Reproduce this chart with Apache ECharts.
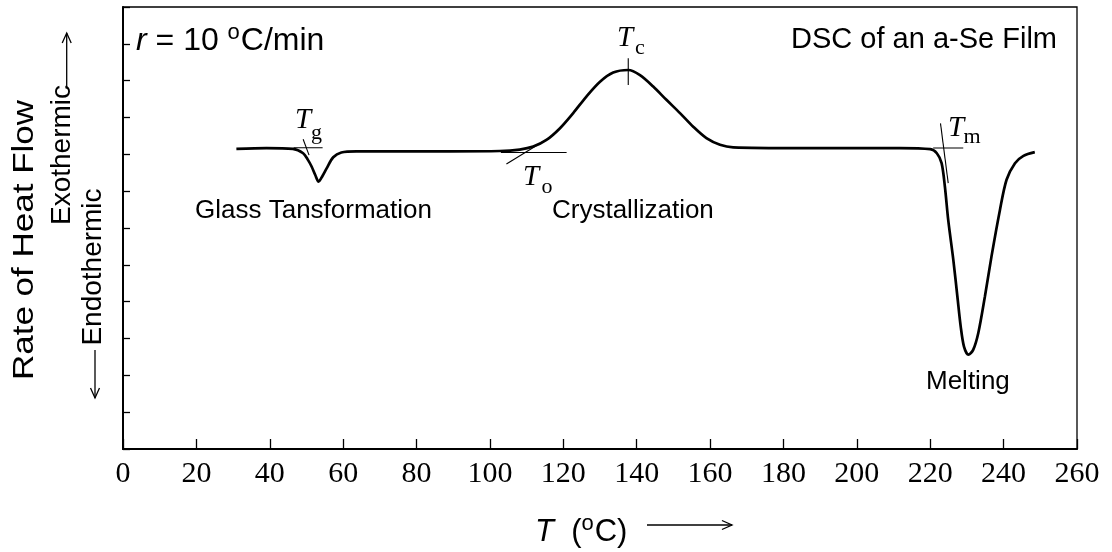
<!DOCTYPE html>
<html>
<head>
<meta charset="utf-8">
<script src="https://cdn.jsdelivr.net/npm/echarts@6/dist/echarts.min.js"></script>
<style>
  html, body { margin: 0; padding: 0; background: #fff; }
  #chart { width: 1112px; height: 552px; }
</style>
</head>
<body>
<div id="chart"></div>
<script>
// DSC trace of an a-Se film
const tempC = [30.9, 39.1, 46.3, 49.1, 50.4, 51.4, 52.4, 53.3, 54.4, 55.5, 57.3, 59.5, 63.6, 70, 75.4,
  89.0, 102.7, 108.1, 111.8, 115.4, 119.1, 122.7, 126.3, 130.0, 133.6, 137.7, 140.9, 144.5, 148.1,
  151.8, 155.4, 159.0, 162.7, 166.3, 184.5, 211.7, 220.0, 221.8, 223.1, 224.0, 224.9, 226.3, 227.4,
  228.3, 229.2, 230.4, 231.7, 233.1, 234.9, 236.7, 239.0, 240.8, 243.1, 245.4, 248.5]
const heatFlow = [8.15, 8.17, 8.15, 8.03, 7.85, 7.67, 7.44, 7.26, 7.42, 7.62, 7.92, 8.05, 8.08, 8.08, 8.08,
  8.08, 8.09, 8.13, 8.21, 8.39, 8.71, 9.12, 9.57, 9.97, 10.22, 10.29, 10.15, 9.84, 9.48,
  9.12, 8.75, 8.44, 8.26, 8.19, 8.17, 8.17, 8.14, 8.03, 7.76, 7.12, 6.22, 5.13, 4.14,
  3.33, 2.78, 2.56, 2.69, 3.15, 4.14, 5.23, 6.49, 7.31, 7.76, 7.96, 8.06]

// construction lines for the characteristic temperatures
const tgBase = [[46.5, 8.18], [54.4, 8.18]]
const tgSlope = [[49.1, 8.41], [50.7, 7.98]]
const tcMark = [[137.7, 10.61], [137.7, 9.88]]
const toBase = [[103, 8.05], [120.9, 8.05]]
const toSlope = [[104.5, 7.74], [114.5, 8.35]]
const tmBase = [[220.8, 8.17], [229.0, 8.17]]
const tmSlope = [[222.8, 8.84], [224.9, 7.22]]

const xTicks = [0, 260, 20]   // min, max, step
const yTicks = [0, 12, 1]

const SANS = 'Liberation Sans'
const SERIF = 'Liberation Serif'

const chart = echarts.init(document.getElementById('chart'))
const ctx = document.createElement('canvas').getContext('2d')

function guide(name, pts) {
  return {
    name: name,
    type: 'line',
    data: pts,
    symbol: 'none',
    silent: true,
    lineStyle: { color: '#000', width: 1.1 },
    z: 3
  }
}

function txt(x, y, text, o) {
  o = o || {}
  return {
    type: 'text',
    x: x, y: y,
    rotation: o.rotation || 0,
    scaleX: o.scaleX || 1,
    scaleY: o.scaleY || 1,
    style: {
      text: text,
      fill: '#000',
      fontFamily: o.family || SANS,
      fontSize: o.size || 26,
      fontStyle: o.italic ? 'italic' : 'normal',
      align: o.align || 'left',
      textAlign: o.align || 'left',
      verticalAlign: 'middle',
      textVerticalAlign: 'middle'
    }
  }
}

// a run of text pieces laid out left to right; sup pieces are raised and smaller
function run(x, y, size, pieces) {
  let out = []
  pieces.forEach(p => {
    const s = p.sup ? Math.round(size * 0.7) : size
    ctx.font = (p.italic ? 'italic ' : '') + s + 'px "' + SANS + '"'
    out.push(txt(x, p.sup ? y - size * 0.26 : y, p.t, { size: s, italic: p.italic }))
    x += ctx.measureText(p.t).width + (p.sup ? 1 : 0)
  })
  return out
}

function arrow(x1, y1, x2, y2) {
  const a = Math.atan2(y2 - y1, x2 - x1), len = 11, w = 0.42
  return [
    { type: 'line', shape: { x1: x1, y1: y1, x2: x2, y2: y2 }, style: { stroke: '#000', lineWidth: 1.3 } },
    { type: 'polyline', shape: { points: [
      [x2 - len * Math.cos(a - w), y2 - len * Math.sin(a - w)],
      [x2, y2],
      [x2 - len * Math.cos(a + w), y2 - len * Math.sin(a + w)]
    ] }, style: { stroke: '#000', lineWidth: 1.3, fill: null } }
  ]
}

const option = {
  animation: false,
  backgroundColor: '#fff',
  grid: {
    left: 123, right: 35, top: 7, bottom: 103,
    show: true, borderColor: '#000', borderWidth: 1.3
  },
  xAxis: {
    type: 'value',
    min: xTicks[0], max: xTicks[1], interval: xTicks[2],
    splitLine: { show: false },
    axisLine: { lineStyle: { color: '#000', width: 2 } },
    axisTick: { inside: true, length: 10, lineStyle: { color: '#000', width: 1.3 } },
    axisLabel: { color: '#000', fontFamily: SERIF, fontSize: 30, margin: 10 }
  },
  yAxis: {
    type: 'value',
    min: yTicks[0], max: yTicks[1], interval: yTicks[2],
    splitLine: { show: false },
    axisLine: { lineStyle: { color: '#000', width: 2 } },
    axisTick: { inside: true, length: 7, lineStyle: { color: '#000', width: 1.3 } },
    axisLabel: { show: false }
  },
  series: [
    {
      name: 'DSC',
      type: 'line',
      data: tempC.map((t, i) => [t, heatFlow[i]]),
      symbol: 'none',
      smooth: 0.3,
      lineStyle: { color: '#000', width: 2.7 },
      z: 4
    },
    guide('Tg base', tgBase),
    guide('Tg slope', tgSlope),
    guide('Tc', tcMark),
    guide('To base', toBase),
    guide('To slope', toSlope),
    guide('Tm base', tmBase),
    guide('Tm slope', tmSlope)
  ],
  graphic: [
    // axis titles
    txt(25, 240, 'Rate of Heat Flow', { size: 35, rotation: Math.PI / 2, align: 'center', scaleY: 0.86 }),
    txt(62, 155, 'Exothermic', { size: 28, rotation: Math.PI / 2, align: 'center' }),
    txt(93.5, 267, 'Endothermic', { size: 28, rotation: Math.PI / 2, align: 'center' }),
    ...arrow(66.7, 88, 66.7, 33),
    ...arrow(95, 350, 95, 398),
    ...run(535, 532, 31, [{ t: 'T', italic: true }, { t: '  (' }, { t: 'o', sup: true }, { t: 'C)' }]),
    ...arrow(647, 525, 732, 525),

    // notes in the frame
    ...run(136, 41.5, 32, [{ t: 'r', italic: true }, { t: ' = 10 ' }, { t: 'o', sup: true }, { t: 'C/min' }]),
    txt(1057, 40, 'DSC of an a-Se Film', { size: 29, align: 'right' }),
    txt(195, 211, 'Glass Tansformation', { size: 26 }),
    txt(552, 211, 'Crystallization', { size: 26 }),
    txt(926, 382, 'Melting', { size: 26 }),

    // characteristic temperatures
    txt(295, 120, 'T', { family: SERIF, size: 29, italic: true }),
    txt(311, 133.5, 'g', { family: SERIF, size: 22 }),
    txt(617, 38.5, 'T', { family: SERIF, size: 29, italic: true }),
    txt(635, 48.5, 'c', { family: SERIF, size: 22 }),
    txt(523, 177, 'T', { family: SERIF, size: 29, italic: true }),
    txt(541.5, 187.5, 'o', { family: SERIF, size: 22 }),
    txt(948, 128.5, 'T', { family: SERIF, size: 29, italic: true }),
    txt(963.5, 137.5, 'm', { family: SERIF, size: 22 })
  ]
}

chart.setOption(option)
</script>
</body>
</html>
